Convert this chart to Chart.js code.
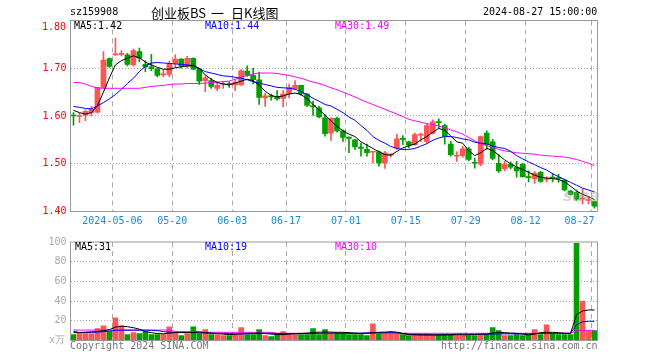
<!DOCTYPE html>
<html><head><meta charset="utf-8">
<script src="https://cdn.jsdelivr.net/npm/chart.js@4"></script>
<style>
html,body{margin:0;padding:0;background:#fff;}
#wrap{position:relative;width:660px;height:360px;overflow:hidden;font-family:'DejaVu Sans Mono',monospace;font-size:10px;}
canvas{position:absolute;left:0;}
.t{position:absolute;white-space:nowrap;line-height:12px;}
.h{position:absolute;white-space:nowrap;font-family:'Noto Sans CJK SC';font-size:13px;line-height:16px;top:5px;color:#000;}
</style></head><body>
<div id="wrap">
<canvas id="k" width="660" height="232" style="top:0"></canvas>
<canvas id="v" width="660" height="128" style="top:232px"></canvas>
<div class="t" style="left:70px;top:6px;color:#000">sz159908</div>
<div class="h" style="left:151px">创业板BS</div>
<div class="h" style="left:211px">一</div>
<div class="h" style="left:231px">日K线图</div>
<div class="t" style="left:483px;top:6px;color:#000">2024-08-27 15:00:00</div>
<div class="t" style="left:42px;top:21px;color:#f00">1.80</div>
<div class="t" style="left:74px;top:20px;color:#000">MA5:1.42</div>
<div class="t" style="left:205px;top:20px;color:#00f">MA10:1.44</div>
<div class="t" style="left:335px;top:20px;color:#f0f">MA30:1.49</div>
<div class="t" style="left:75px;top:241px;color:#000">MA5:31</div>
<div class="t" style="left:205px;top:241px;color:#00f">MA10:19</div>
<div class="t" style="left:335px;top:241px;color:#f0f">MA30:10</div>
<div class="t" style="left:49px;top:334px;color:#aaa">x万</div>
<div class="t" style="left:70px;top:340px;color:#777">Copyright 2024 SINA.COM</div>
<div class="t" style="left:441px;top:340px;color:#777">http://finance.sina.com.cn</div>
<div class="t" style="left:563px;top:186px;font-family:'DejaVu Sans';font-weight:bold;font-style:italic;font-size:16px;line-height:20px;color:rgba(160,160,160,0.45)">sina</div>
</div>
<script>
const dates = ['2024-04-22','2024-04-23','2024-04-24','2024-04-25','2024-04-26','2024-04-29','2024-04-30',
'2024-05-06','2024-05-07','2024-05-08','2024-05-09','2024-05-10','2024-05-13','2024-05-14','2024-05-15','2024-05-16','2024-05-17',
'2024-05-20','2024-05-21','2024-05-22','2024-05-23','2024-05-24','2024-05-27','2024-05-28','2024-05-29','2024-05-30','2024-05-31',
'2024-06-03','2024-06-04','2024-06-05','2024-06-06','2024-06-07','2024-06-11','2024-06-12','2024-06-13','2024-06-14',
'2024-06-17','2024-06-18','2024-06-19','2024-06-20','2024-06-21','2024-06-24','2024-06-25','2024-06-26','2024-06-27','2024-06-28',
'2024-07-01','2024-07-02','2024-07-03','2024-07-04','2024-07-05','2024-07-08','2024-07-09','2024-07-10','2024-07-11','2024-07-12',
'2024-07-15','2024-07-16','2024-07-17','2024-07-18','2024-07-19','2024-07-22','2024-07-23','2024-07-24','2024-07-25','2024-07-26',
'2024-07-29','2024-07-30','2024-07-31','2024-08-01','2024-08-02','2024-08-05','2024-08-06','2024-08-07','2024-08-08','2024-08-09',
'2024-08-12','2024-08-13','2024-08-14','2024-08-15','2024-08-16','2024-08-19','2024-08-20','2024-08-21','2024-08-22','2024-08-23',
'2024-08-26','2024-08-27'];
const open = [1.601,1.599,1.602,1.607,1.608,1.660,1.720,1.728,1.729,1.728,1.707,1.735,1.708,1.703,1.699,1.686,1.687,1.710,1.719,1.704,1.721,1.699,
1.674,1.674,1.658,1.666,1.668,1.665,1.665,1.694,1.685,1.676,1.638,1.642,1.640,1.637,1.646,1.657,1.664,1.646,1.622,1.617,1.596,
1.564,1.595,1.569,1.556,1.550,1.535,1.530,1.524,1.525,1.502,1.518,1.533,1.553,1.546,1.540,1.560,1.547,1.564,1.588,1.580,1.541,1.516,
1.517,1.531,1.503,1.499,1.564,1.546,1.501,1.489,1.499,1.492,1.499,1.473,1.468,1.482,1.467,1.472,1.471,1.466,1.443,1.440,1.426,1.423,1.421];
const high = [1.607,1.606,1.613,1.620,1.660,1.735,1.722,1.763,1.737,1.731,1.740,1.742,1.716,1.729,1.700,1.697,1.715,1.728,1.720,1.725,1.722,1.700,
1.684,1.679,1.672,1.672,1.672,1.676,1.697,1.705,1.700,1.692,1.648,1.646,1.653,1.653,1.667,1.674,1.665,1.647,1.631,1.621,1.603,
1.596,1.598,1.571,1.556,1.551,1.543,1.541,1.526,1.527,1.526,1.521,1.562,1.559,1.547,1.564,1.564,1.583,1.592,1.594,1.583,1.547,1.525,
1.537,1.535,1.512,1.558,1.569,1.551,1.519,1.505,1.504,1.505,1.501,1.485,1.484,1.484,1.473,1.480,1.478,1.468,1.445,1.445,1.448,1.430,1.422];
const low = [1.581,1.586,1.590,1.600,1.606,1.658,1.702,1.727,1.726,1.705,1.705,1.714,1.693,1.695,1.682,1.682,1.682,1.702,1.700,1.700,1.697,1.666,
1.651,1.658,1.653,1.658,1.660,1.653,1.664,1.683,1.667,1.624,1.620,1.633,1.633,1.619,1.638,1.655,1.643,1.620,1.601,1.596,1.558,
1.549,1.566,1.547,1.523,1.530,1.516,1.516,1.502,1.495,1.490,1.514,1.530,1.540,1.533,1.539,1.547,1.543,1.562,1.574,1.541,1.516,1.505,
1.513,1.506,1.491,1.496,1.530,1.508,1.482,1.485,1.489,1.472,1.472,1.462,1.459,1.461,1.462,1.462,1.461,1.443,1.434,1.423,1.416,1.416,1.407];
const close = [1.600,1.600,1.610,1.614,1.660,1.717,1.704,1.730,1.730,1.708,1.737,1.721,1.703,1.699,1.685,1.688,1.710,1.719,1.705,1.721,1.698,1.673,
1.680,1.662,1.664,1.668,1.666,1.671,1.695,1.685,1.676,1.639,1.642,1.640,1.636,1.646,1.660,1.664,1.646,1.622,1.619,1.598,1.563,
1.595,1.569,1.555,1.553,1.535,1.532,1.523,1.525,1.502,1.523,1.520,1.552,1.551,1.539,1.561,1.562,1.580,1.588,1.586,1.557,1.519,1.518,
1.531,1.509,1.501,1.557,1.540,1.511,1.485,1.499,1.493,1.485,1.473,1.471,1.480,1.463,1.469,1.470,1.469,1.445,1.436,1.426,1.428,1.425,1.411];
const ma5 = [1.612,1.607,1.604,1.607,1.622,1.650,1.680,1.707,1.716,1.721,1.726,1.722,1.713,1.707,1.702,1.698,1.698,1.701,1.703,1.705,1.706,1.700,
1.686,1.677,1.670,1.667,1.665,1.669,1.673,1.677,1.674,1.664,1.652,1.643,1.640,1.642,1.646,1.648,1.645,1.636,1.624,1.613,1.602,
1.590,1.578,1.569,1.562,1.557,1.546,1.539,1.532,1.525,1.519,1.518,1.526,1.533,1.538,1.541,1.550,1.557,1.566,1.574,1.570,1.558,1.546,
1.543,1.527,1.517,1.523,1.532,1.528,1.518,1.508,1.500,1.493,1.488,1.482,1.476,1.472,1.470,1.469,1.467,1.462,1.453,1.443,1.436,1.431,1.425];
const ma10 = [1.620,1.618,1.616,1.615,1.621,1.628,1.636,1.645,1.656,1.668,1.679,1.693,1.704,1.711,1.712,1.711,1.710,1.709,1.708,1.707,1.705,1.699,
1.693,1.690,1.687,1.684,1.683,1.681,1.679,1.676,1.672,1.669,1.666,1.663,1.660,1.659,1.658,1.656,1.651,1.645,1.637,1.631,1.624,
1.621,1.614,1.607,1.598,1.591,1.580,1.570,1.557,1.549,1.543,1.536,1.532,1.530,1.530,1.532,1.537,1.542,1.549,1.554,1.557,1.557,1.555,
1.552,1.550,1.545,1.543,1.542,1.537,1.534,1.532,1.526,1.517,1.510,1.504,1.498,1.492,1.487,1.479,1.473,1.467,1.461,1.455,1.449,1.445,1.441];
const ma30 = [1.670,1.670,1.667,1.662,1.659,1.658,1.658,1.658,1.658,1.658,1.658,1.658,1.660,1.662,1.663,1.664,1.666,1.667,1.667,1.668,1.668,1.668,
1.669,1.670,1.671,1.672,1.673,1.677,1.681,1.685,1.688,1.690,1.690,1.690,1.689,1.687,1.685,1.682,1.679,1.675,1.671,1.668,1.664,1.659,
1.655,1.650,1.645,1.640,1.634,1.629,1.624,1.619,1.614,1.609,1.604,1.599,1.593,1.590,1.587,1.584,1.582,1.579,1.575,1.571,1.567,
1.562,1.555,1.548,1.542,1.538,1.534,1.530,1.527,1.525,1.523,1.522,1.521,1.520,1.518,1.517,1.516,1.515,1.514,1.512,1.509,1.505,1.501,1.496];
const volume = [6,7,7,7,12,15,9,23,15,6,8,7,9,6,6,6,14,8,5,7,14,7,11,6,6,5,5,6,13,6,6,11,5,4,6,9,7,7,6,6,12,6,11,7,
7,7,6,6,6,5,17,7,7,7,7,6,5,7,7,7,6,6,6,6,5,5,5,5,7,6,13,10,5,5,6,5,6,11,6,16,7,6,6,6,98.7,40,10,10];
const vma5 = [8,8,8.5,8.8,9,10,11,13.5,14.5,14,13,11.5,9,8,7,6.8,7.5,8,8,8,8.3,8.5,8,7.5,7,6.5,6,6.2,7,7.2,7.3,7.5,7,6.5,6,6,6.5,7,7.2,7.5,8,8.5,8.5,8.5,
8.3,8.3,8,7.5,7.3,7.5,8,8.3,8.5,9,8.5,7,6,5.8,5.7,5.7,5.7,5.7,5.8,6,6.3,6.3,6.3,6.3,6.3,6.5,7.5,8.3,8,7.5,7.3,6.5,5.7,6.5,8,8.3,8.3,8,7.3,7.3,26,30,31,31];
const vma10 = [9.5,8,8,8.3,8.5,9,9.5,10.3,10.5,10.5,10.5,10.5,10.5,10.3,10,9,8.5,8.3,8.3,8.3,8,7.8,7.5,7.3,7.3,7,7,6.8,6.7,6.8,7,7.2,7.3,7.3,7.2,7,7,7,7,7,7.2,7.3,7.5,7.5,
7.3,7.3,7.3,7.3,7.3,7.5,7.7,8,8,8,7.8,7.3,6.5,6,5.8,5.7,5.7,5.7,5.7,5.7,5.7,5.7,5.7,6,6.2,6.4,6.6,6.7,6.7,6.7,6.7,6.7,6.8,7,7.2,7.3,7.3,7.3,7.3,7.3,16,19,19.5,19.5];
const vma30 = [10.6,10.6,10.6,10.6,10.6,10.6,10.6,10.6,10.6,10.6,10.6,10.6,10.6,10.6,10.6,10.6,10.6,9,9,9,9,9,
8.3,8.3,8.3,8.3,8.3,8.3,8.3,8.3,8.3,8.3,8.3,8.3,7.3,7.3,7.3,7.3,7.3,7.3,7.3,7.3,7.3,7.3,
7.3,7.3,7.3,7.3,7.3,7.3,7.3,7.3,7.3,7.3,7.3,7.3,7.3,7.3,7.3,7.3,7.3,7.3,7.3,7.3,7.3,7.3,
7.3,7.3,7.3,7.3,7.3,7.3,7.3,7.3,7.3,7.3,7.3,7.3,7.3,7.3,7.3,7.3,7.3,7.3,10,10.3,10.3,10.3];
const tickDates = ['2024-05-06','2024-05-20','2024-06-03','2024-06-17','2024-07-01','2024-07-15','2024-07-29','2024-08-12','2024-08-27'];
const tickLabels = ['2024-05-06','05-20','06-03','06-17','07-01','07-15','07-29','08-12','08-27'];
const priceTicks = [1.40,1.50,1.60,1.70,1.80];
const volTicks = [20,40,60,80,100];

const RED = '#ff5555', GREEN = '#00a000';
const candleColor = close.map((c,i) => c >= open[i] ? RED : GREEN);
const gridIdx = new Set(tickDates.map(d => dates.indexOf(d)));
const CLEAR = 'rgba(0,0,0,0)';
Chart.defaults.font.family = "'DejaVu Sans Mono', monospace";
Chart.defaults.font.size = 10;

const frame = { id:'frame', afterDraw(chart){ const {ctx, chartArea:a} = chart; ctx.save(); ctx.strokeStyle='#999'; ctx.lineWidth=1; ctx.setLineDash([]);
  ctx.strokeRect(a.left, a.top, a.right-a.left, a.bottom-a.top); ctx.restore(); } };

function xScale(showTicks, h){
  return { type:'category', offset:true,
    grid:{ offset:true, drawTicks:false, lineWidth:1, color: c => gridIdx.has(c.index) ? '#aaa' : CLEAR },
    border:{ display:false, dash:[5,4] },
    ticks:{ display:showTicks, autoSkip:false, maxRotation:0, minRotation:0, padding:4, labelOffset:-3, color:'#1a8ad8',
      callback:(v,i) => { const k = tickDates.indexOf(dates[i]); if (k<0) return ''; return k===tickLabels.length-1 ? tickLabels[k]+'    ' : tickLabels[k]; } },
    afterFit: s => { s.height = h; } };
}
function line(data,color){ return { type:'line', data, borderColor:color, borderWidth:1, pointRadius:0, tension:0, order:0 }; }

new Chart(document.getElementById('k'), {
  type:'bar',
  data:{ labels:dates, datasets:[
    line(ma5,'#000'), line(ma10,'#0000ff'), line(ma30,'#ff00ff'),
    { data: open.map((o,i)=>[o, close[i]]), backgroundColor:candleColor, barThickness:5, minBarLength:1, grouped:false, order:1, borderWidth:0 },
    { data: low.map((l,i)=>[l, high[i]]), backgroundColor:candleColor, barThickness:1, minBarLength:1, grouped:false, order:2, borderWidth:0 }
  ]},
  options:{ responsive:false, animation:false, events:[],
    layout:{ padding:{ top:20.5, right:62.5, left:0, bottom:0 } },
    plugins:{ legend:{display:false}, tooltip:{enabled:false} },
    scales:{
      x: xScale(true, 20.5),
      y: { min:1.40, max:1.80,
        afterBuildTicks: s => { s.ticks = priceTicks.map(v => ({value:v})); },
        afterFit: s => { s.width = 70.5; },
        grid:{ drawTicks:false, color: c => (c.tick && c.tick.value > 1.41 && c.tick.value < 1.79) ? '#aaa' : CLEAR },
        border:{ display:false, dash:[1,2] },
        ticks:{ color:'#f00', padding:4, callback: v => v > 1.79 ? '' : v.toFixed(2) } }
    } },
  plugins:[frame]
});

new Chart(document.getElementById('v'), {
  type:'bar',
  data:{ labels:dates, datasets:[
    line(vma5,'#000'), line(vma10,'#0000ff'), line(vma30,'#ff00ff'),
    { data: volume, backgroundColor:candleColor, barThickness:5, grouped:false, order:1, borderWidth:0 }
  ]},
  options:{ responsive:false, animation:false, events:[],
    layout:{ padding:{ top:8.5, right:62.5, left:0, bottom:19.5 } },
    plugins:{ legend:{display:false}, tooltip:{enabled:false} },
    scales:{
      x: xScale(false, 0),
      y: { min:0, max:100,
        afterBuildTicks: s => { s.ticks = volTicks.map(v => ({value:v})); },
        afterFit: s => { s.width = 70.5; },
        grid:{ drawTicks:false, color: c => (c.tick && c.tick.value < 99) ? '#aaa' : CLEAR },
        border:{ display:false, dash:[1,2] },
        ticks:{ color:'#aaa', padding:4 } }
    } },
  plugins:[frame]
});
</script>
</body></html>
